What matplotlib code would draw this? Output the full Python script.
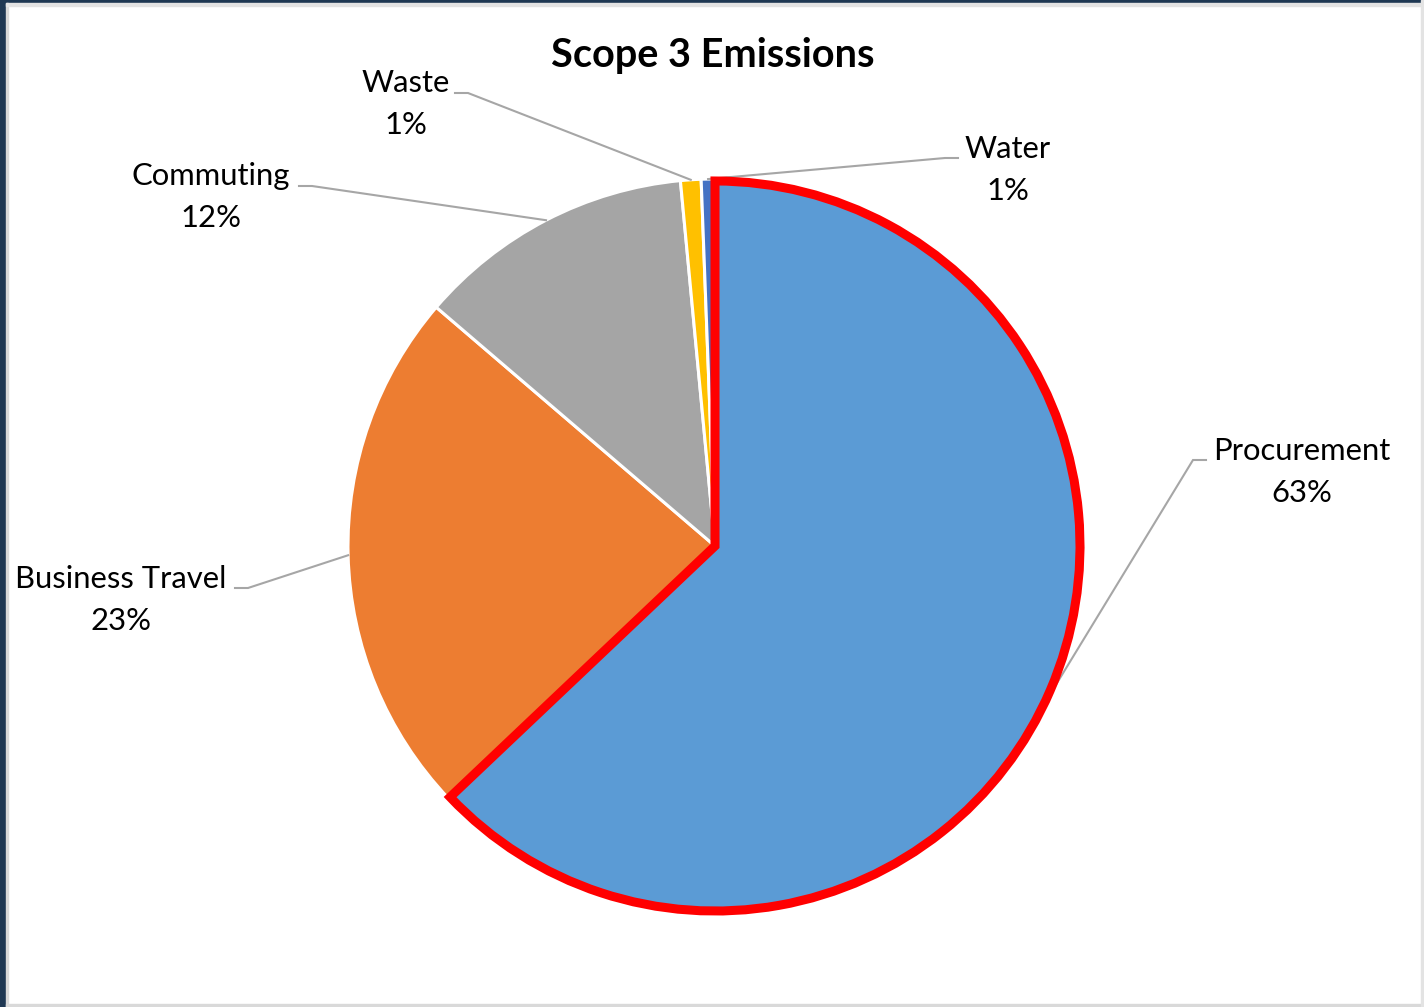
import numpy as np
import matplotlib
matplotlib.use("Agg")
import matplotlib.pyplot as plt
from matplotlib.patches import Rectangle, Wedge

plt.rcParams["font.family"] = ["Lato", "DejaVu Sans"]

# Scope 3 breakdown, clockwise from 12 o'clock
categories = ["Procurement", "Business Travel", "Commuting", "Waste", "Water"]
shares = [62.8, 23.3, 12.2, 0.9, 0.6]
colors = ["#5B9BD5", "#ED7D31", "#A5A5A5", "#FFC000", "#4472C4"]

# label text centres and leader-line elbows (pixel coords, y down)
label_xy = [(1302, 472), (121, 600), (211, 197), (406, 104), (1008, 170)]
elbow_xy = [(1193, 460), (248, 588), (312, 186), (468, 93), (945, 158)]

W, H = 1424, 1007
fig = plt.figure(figsize=(W / 100, H / 100), dpi=100)
ax = fig.add_axes([0, 0, 1, 1])

cx, cy, r = 715, H - 546, 367
wedges, _ = ax.pie(shares, colors=colors, startangle=90, counterclock=False,
                   center=(cx, cy), radius=r, frame=True,
                   wedgeprops=dict(edgecolor="white", linewidth=2.2))
ax.set_xlim(0, W)
ax.set_ylim(0, H)
ax.axis("off")

# window frame
ax.add_patch(Rectangle((0, 0), 6, H, color="#1F3853", zorder=5))
ax.add_patch(Rectangle((0, H - 3), W, 3, color="#1F3853", zorder=5))
ax.add_patch(Rectangle((6, 0), 2, H - 3, color="#D9D9D9", zorder=5))
ax.add_patch(Rectangle((6, H - 6), W, 3, color="#E3E3E3", zorder=5))
ax.add_patch(Rectangle((6, 0), W, 3, color="#D9D9D9", zorder=5))
ax.add_patch(Rectangle((W - 3, 0), 3, H, color="#E3E3E3", zorder=5))

# red outline on the largest slice
w0 = wedges[0]
ax.add_patch(Wedge((cx, cy), r - 2, w0.theta1, w0.theta2, facecolor="none",
                   edgecolor="#FF0000", linewidth=6.5, joinstyle="miter", zorder=4))

total = sum(shares)
for w, name, val, (lx, ly), (ex, ey) in zip(wedges, categories, shares, label_xy, elbow_xy):
    mid = np.deg2rad((w.theta1 + w.theta2) / 2)
    px, py = cx + r * np.cos(mid), cy + r * np.sin(mid)
    ey = H - ey
    # short horizontal stub toward the label
    sx = ex - 13 if ex < cx else ex + 13
    ax.plot([px, ex, sx], [py, ey, ey], color="#A6A6A6", lw=1.5, zorder=3,
            solid_joinstyle="miter")
    pct = round(val / total * 100)
    ax.text(lx, H - ly, f"{name}\n{pct}%", ha="center", va="center",
            fontsize=22.3, color="#000000", linespacing=1.63, zorder=6)

ax.text(713, H - 55, "Scope 3 Emissions", ha="center", va="center",
        fontsize=28.5, fontweight="bold", color="#000000")

fig.savefig("out.png", dpi=100)
